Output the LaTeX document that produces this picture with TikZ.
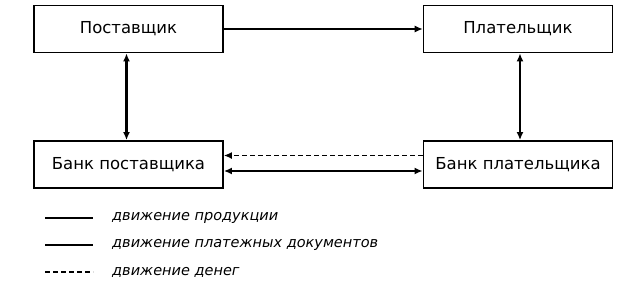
\documentclass[tikz,border=0pt]{standalone}
\usepackage{fontspec}
\setmainfont{DejaVu Sans}
\usetikzlibrary{arrows.meta}
\tikzset{
  box/.style={draw, line width=1.8pt, minimum width=189pt, minimum height=47pt, inner sep=0pt, font=\fontsize{16.5}{19}\selectfont},
  prod/.style={line width=1.1pt},
  docs/.style={line width=2.8pt},
  money/.style={line width=1.3pt, dash pattern=on 5pt off 3pt},
  tp/.tip={Latex[length=8pt,width=7pt]},
  lgtext/.style={anchor=west, inner sep=0pt, font=\fontsize{14.5}{17}\itshape\selectfont}
}
\begin{document}
\begin{tikzpicture}[x=1pt,y=-1pt]
\useasboundingbox (0,0) rectangle (632,290);
\node[box] (sup) at (128.5,29) {Поставщик};
\node[box] (pay) at (518,29) {Плательщик};
\node[box] (bsup) at (128.5,164.5) {Банк поставщика};
\node[box] (bpay) at (518,164.5) {Банк плательщика};
\draw[prod,-tp] (sup.east) -- (pay.west);
\draw[line width=2.4pt,tp-tp] ([xshift=-2pt]sup.south) -- ([xshift=-2pt]bsup.north);
\draw[line width=2.4pt,tp-tp] ([xshift=2pt]pay.south) -- ([xshift=2pt]bpay.north);
\draw[money,-tp] ([yshift=9pt]bpay.west) -- ([yshift=9pt]bsup.east);
\draw[line width=2.6pt,tp-tp] ([yshift=-6.5pt]bsup.east) -- ([yshift=-6.5pt]bpay.west);
\coordinate (l1a) at (45,218); \coordinate (l1b) at (93,218);
\coordinate (l2a) at (45,245); \coordinate (l2b) at (93,245);
\coordinate (l3a) at (45,272); \coordinate (l3b) at (93,272);
\draw[prod] (l1a) -- (l1b);
\draw[docs] (l2a) -- (l2b);
\draw[money] (l3a) -- (l3b);
\node[lgtext] (t1) at (112,218) {движение продукции};
\node[lgtext] (t2) at (112,245) {движение платежных документов};
\node[lgtext] (t3) at (112,272) {движение денег};
\end{tikzpicture}
\end{document}
